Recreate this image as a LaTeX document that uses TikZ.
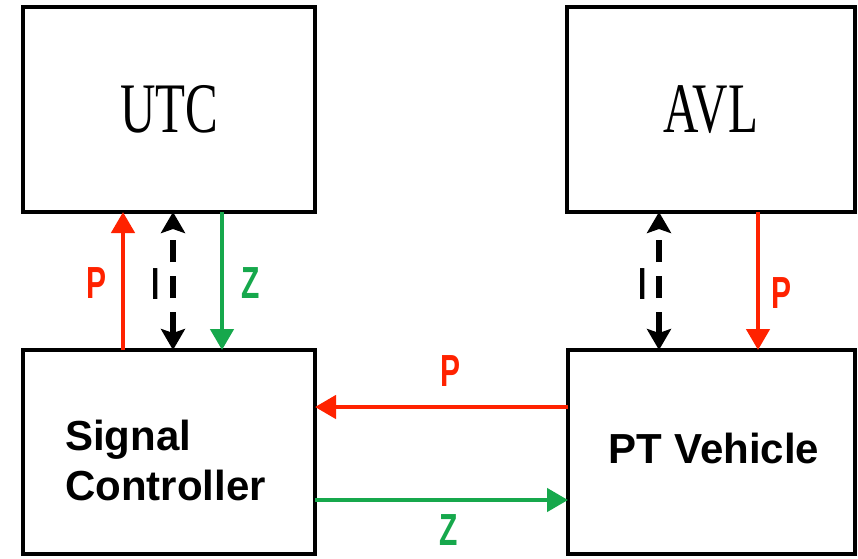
\documentclass[tikz,border=0pt]{standalone}
\usepackage{fontspec}
\setmainfont{Liberation Serif}
\newfontfamily\arial{Liberation Sans}
\usetikzlibrary{arrows.meta}
\definecolor{sigred}{RGB}{255,34,0}
\definecolor{siggreen}{RGB}{22,168,76}
\begin{document}
\begin{tikzpicture}[x=1pt,y=-1pt,
  box/.style={draw=black,line width=4pt,fill=white,inner sep=0pt,outer sep=0pt},
  serifname/.style={inner sep=0pt,font=\fontsize{49}{49}\selectfont},
  sanslabel/.style={inner sep=0pt,font=\arial\bfseries\fontsize{42}{50}\selectfont},
  flowlbl/.style={inner sep=0pt,font=\arial\bfseries\fontsize{30}{30}\selectfont},
  redflow/.style={draw=sigred,line width=4.5pt,-{Triangle[length=21pt,width=23pt]}},
  greenflow/.style={draw=siggreen,line width=4.5pt,-{Triangle[length=21pt,width=23pt]}},
  infoflow/.style={draw=black,line width=5.5pt,dash pattern=on 22pt off 14pt,
    {Stealth[length=21pt,width=24pt,inset=4pt]}-{Stealth[length=21pt,width=24pt,inset=4pt]}}]
\useasboundingbox (0,0) rectangle (858,558);

% boxes
\node[box,minimum width=292pt,minimum height=205pt] (utc) at (169,109.5) {};
\node[box,minimum width=288pt,minimum height=205pt] (avl) at (711,109.5) {};
\node[box,minimum width=292pt,minimum height=204pt] (sc) at (169,452) {};
\node[box,minimum width=287pt,minimum height=204pt] (pt) at (711.5,452) {};

% box texts
\node[serifname] (utctext) at (utc.center) {\scalebox{1}[1.45]{UTC}};
\node[serifname] (avltext) at (avl.center) {\scalebox{1}[1.45]{AVL}};
\node[sanslabel,align=left,anchor=west] (sctext) at (65,460) {Signal\\Controller};
\node[sanslabel,anchor=base] (pttext) at (714,463) {PT Vehicle};

% x positions of vertical connectors
\coordinate (xp) at (123,0);
\coordinate (xi) at (173,0);
\coordinate (xz) at (222,0);
\coordinate (xi2) at (659,0);
\coordinate (xp2) at (758,0);
% y positions of horizontal connectors
\coordinate (yp) at (0,407);
\coordinate (yz) at (0,500);

% left vertical connectors
\draw[redflow] (sc.north -| xp) -- (utc.south -| xp);
\draw[infoflow] (sc.north -| xi) -- (utc.south -| xi);
\draw[greenflow] (utc.south -| xz) -- (sc.north -| xz);

% right vertical connectors
\draw[infoflow] (pt.north -| xi2) -- (avl.south -| xi2);
\draw[redflow] (avl.south -| xp2) -- (pt.north -| xp2);

% horizontal connectors
\draw[redflow] (pt.west |- yp) -- (sc.east |- yp);
\draw[greenflow] (sc.east |- yz) -- (pt.west |- yz);

% flow labels
\node[flowlbl,text=sigred] (lp1) at (97,283) {\scalebox{1}[1.5]{P}};
\node[flowlbl,text=black] (li1) at (156,284) {\scalebox{1}[1.5]{I}};
\node[flowlbl,text=siggreen] (lz1) at (251,283) {\scalebox{1}[1.5]{Z}};
\node[flowlbl,text=black] (li2) at (643,284) {\scalebox{1}[1.5]{I}};
\node[flowlbl,text=sigred] (lp2) at (781,293) {\scalebox{1}[1.5]{P}};
\node[flowlbl,text=sigred] (lp3) at (450,371) {\scalebox{1}[1.5]{P}};
\node[flowlbl,text=siggreen] (lz3) at (449,530) {\scalebox{1}[1.5]{Z}};
\end{tikzpicture}
\end{document}
